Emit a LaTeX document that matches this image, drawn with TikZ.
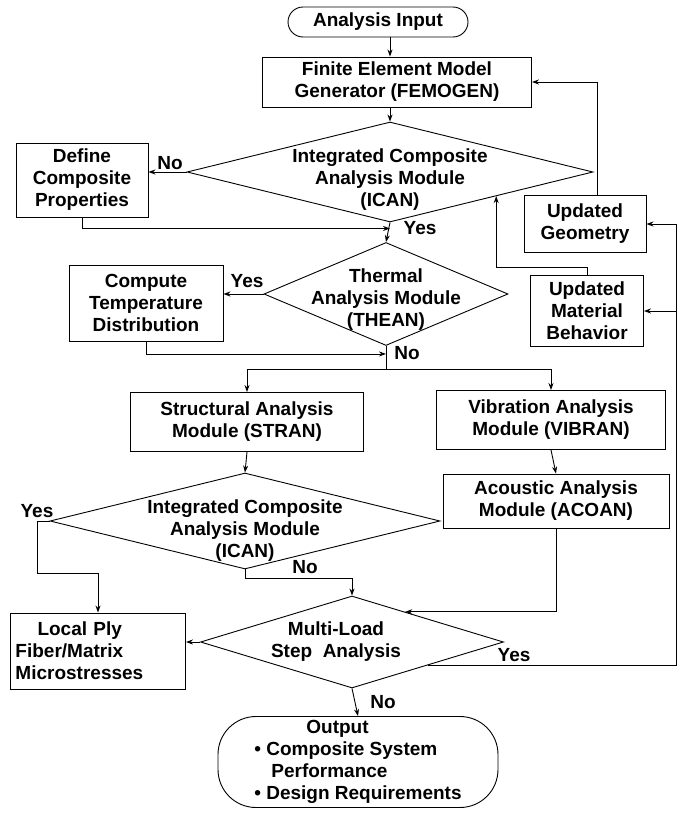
\documentclass[tikz,border=0pt]{standalone}
\usepackage{fontspec}
\setmainfont{Liberation Sans}
\usetikzlibrary{shapes.geometric,arrows.meta,calc}

\begin{document}
\begin{tikzpicture}[x=1pt,y=-1pt,
  font=\fontsize{19}{22}\selectfont\bfseries,
  line width=0.9pt,
  box/.style={draw, align=center, inner sep=2pt},
  pill/.style={draw, align=center, rounded corners=#1},
  dia/.style={draw, diamond, inner sep=0pt},
  arr/.style={-{Stealth[length=7pt,width=5pt]}},
  lbl/.style={inner sep=0pt}]

\useasboundingbox (0,0) rectangle (681,814);
\coordinate (bus) at (676,0);

% Input and model generator
\node[pill=15pt, minimum width=180pt, minimum height=30pt] (input) at (378,22) {Analysis Input};
\node[box, minimum width=269pt, minimum height=50pt] (femogen) at (397,82) {Finite Element Model\\Generator (FEMOGEN)};

% First ICAN check
\node[dia, minimum width=406pt, minimum height=100pt] (ican1) at (390,172) {};
\node[lbl, align=center] (ican1txt) at ([yshift=-8pt]ican1) {Integrated Composite\\Analysis Module\\(ICAN)};
\node[box, minimum width=132pt, minimum height=74pt] (define) at (82,180) {Define\\Composite\\Properties};

% Thermal check
\node[dia, minimum width=244pt, minimum height=103pt] (thean) at (386,294) {};
\node[lbl, align=center] (theantxt) at ([yshift=-6pt]thean) {Thermal\\Analysis Module\\(THEAN)};
\node[box, minimum width=154pt, minimum height=76pt] (compute) at (146,303) {Compute\\Temperature\\Distribution};

% Updates
\node[box, minimum width=122pt, minimum height=57pt] (geom) at (585,224) {Updated\\Geometry};
\node[box, minimum width=113pt, minimum height=71pt] (material) at (587,311) {Updated\\Material\\Behavior};

% Analysis modules
\node[box, minimum width=233pt, minimum height=59pt] (stran) at (247,422) {Structural Analysis\\Module (STRAN)};
\node[box, minimum width=229pt, minimum height=59pt] (vibran) at (551,420) {Vibration Analysis\\Module (VIBRAN)};
\node[box, minimum width=226pt, minimum height=54pt] (acoan) at (556,501) {Acoustic Analysis\\Module (ACOAN)};

% Second ICAN check
\node[dia, minimum width=390pt, minimum height=96pt] (ican2) at (245,521) {};
\node[lbl, align=center] (ican2txt) at ([yshift=-10pt]ican2) {Integrated Composite\\Analysis Module\\(ICAN)};
\node[box, align=left, text width=165pt, inner xsep=5pt, minimum height=76pt] (local) at (98,651) {\hspace*{22pt}Local Ply\\Fiber/Matrix\\Microstresses};

% Multi-load check and output
\node[dia, minimum width=303pt, minimum height=92pt] (ml) at (352,642) {};
\node[lbl, align=center] (mltxt) at ([xshift=-16pt]ml) {Multi-Load\\Step\ \ Analysis};
\node[pill=38pt, align=left, inner sep=2pt, minimum width=280pt, minimum height=91pt] (output) at (358,762) {\hspace*{52pt}Output\\\textbullet\ Composite System\\\hspace*{17pt}Performance\\\textbullet\ Design Requirements};

% Labels
\node[lbl] (no1) at (170,163) {No};
\node[lbl] (yes1) at (420,228) {Yes};
\node[lbl] (yes2) at (247,281) {Yes};
\node[lbl] (no2) at (407,353) {No};
\node[lbl] (yes3) at (37,511) {Yes};
\node[lbl] (no3) at (305,567) {No};
\node[lbl] (yes4) at (514,655) {Yes};
\node[lbl] (no4) at (383,702) {No};

% Main flow
\draw[arr] (input.south -| ican1.north) -- (femogen.north -| ican1.north);
\draw[arr] (femogen.south -| ican1.north) -- (ican1.north);
\draw[arr] (ican1.west) -- (ican1.west -| define.east);
\draw[arr] (define.south) |- ([yshift=-6pt]ican1.south);
\draw[arr] (ican1.south) -- (thean.north);
\draw[arr] (thean.west) -- (thean.west -| compute.east);
\draw[arr] (compute.south) |- ([yshift=-8pt]thean.south);
\coordinate (split) at ([yshift=-23pt]thean.south);
\draw (thean.south) -- (split);
\draw[arr] (split) -| (stran.north);
\draw[arr] (split) -| (vibran.north);
\draw[arr] (stran.south) -- (ican2.north);
\draw[arr] (vibran.south) -- (acoan.north);
\draw[arr] (ican2.west) -- ++(-12,0) -- ++(0,52) -| (local.north);
\draw[arr] (ican2.south) -- ++(0,9) -| (ml.north);
\draw[arr] (acoan.south) |- ($(ml.north)!0.35!(ml.east)$);
\draw[arr] (ml.west) -- (ml.west -| local.east);
\draw[arr] (ml.south) -- (output.north);

% Feedback loops
\coordinate (ret) at ($(ml.east)!0.5!(ml.south)$);
\draw (ret) -- (ret -| bus) -- (bus |- geom.east);
\draw[arr] (bus |- geom.east) -- (geom.east);
\draw[arr] (bus |- material.east) -- (material.east);
\draw[arr] ([xshift=12pt]geom.north) |- (femogen.east);
\draw[arr] (material.north) -- ++(0,-8) -| ($(ican1.east)!0.478!(ican1.south)$);

\end{tikzpicture}
\end{document}
